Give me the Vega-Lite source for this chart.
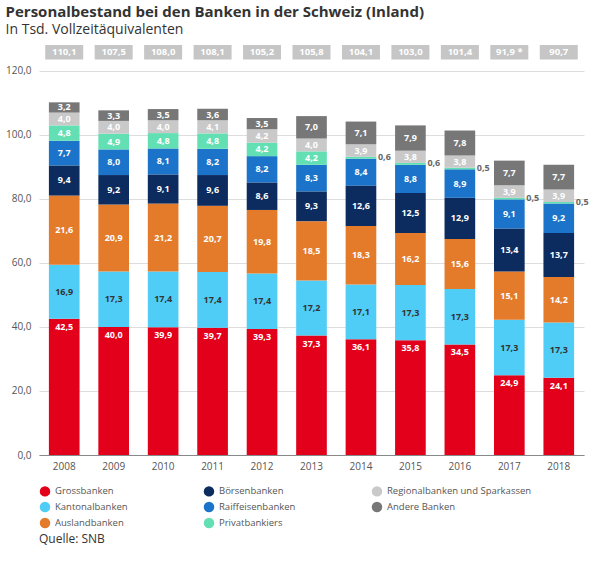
{
"$schema":"https://vega.github.io/schema/vega-lite/v6.json",
"width":545,"height":410,
"config":{"locale":{"number":{"decimal":",","thousands":".","grouping":[3],"currency":["","CHF"]}},"font":"Open Sans","view":{"stroke":null}},
"title":{"text":"Personalbestand bei den Banken in der Schweiz (Inland)","subtitle":"In Tsd. Vollzeitäquivalenten","anchor":"start","fontSize":15,"fontWeight":"bold","color":"#333","subtitleFontSize":14,"subtitleColor":"#333","offset":8},
"data":{"values":[
{"year":"2008","cat":"Grossbanken","k":1,"v":42.5},{"year":"2008","cat":"Kantonalbanken","k":2,"v":16.9},{"year":"2008","cat":"Auslandbanken","k":3,"v":21.6},{"year":"2008","cat":"Börsenbanken","k":4,"v":9.4},{"year":"2008","cat":"Raiffeisenbanken","k":5,"v":7.7},{"year":"2008","cat":"Privatbankiers","k":6,"v":4.8},{"year":"2008","cat":"Regionalbanken und Sparkassen","k":7,"v":4.0},{"year":"2008","cat":"Andere Banken","k":8,"v":3.2},
{"year":"2009","cat":"Grossbanken","k":1,"v":40.0},{"year":"2009","cat":"Kantonalbanken","k":2,"v":17.3},{"year":"2009","cat":"Auslandbanken","k":3,"v":20.9},{"year":"2009","cat":"Börsenbanken","k":4,"v":9.2},{"year":"2009","cat":"Raiffeisenbanken","k":5,"v":8.0},{"year":"2009","cat":"Privatbankiers","k":6,"v":4.9},{"year":"2009","cat":"Regionalbanken und Sparkassen","k":7,"v":4.0},{"year":"2009","cat":"Andere Banken","k":8,"v":3.3},
{"year":"2010","cat":"Grossbanken","k":1,"v":39.9},{"year":"2010","cat":"Kantonalbanken","k":2,"v":17.4},{"year":"2010","cat":"Auslandbanken","k":3,"v":21.2},{"year":"2010","cat":"Börsenbanken","k":4,"v":9.1},{"year":"2010","cat":"Raiffeisenbanken","k":5,"v":8.1},{"year":"2010","cat":"Privatbankiers","k":6,"v":4.8},{"year":"2010","cat":"Regionalbanken und Sparkassen","k":7,"v":4.0},{"year":"2010","cat":"Andere Banken","k":8,"v":3.5},
{"year":"2011","cat":"Grossbanken","k":1,"v":39.7},{"year":"2011","cat":"Kantonalbanken","k":2,"v":17.4},{"year":"2011","cat":"Auslandbanken","k":3,"v":20.7},{"year":"2011","cat":"Börsenbanken","k":4,"v":9.6},{"year":"2011","cat":"Raiffeisenbanken","k":5,"v":8.2},{"year":"2011","cat":"Privatbankiers","k":6,"v":4.8},{"year":"2011","cat":"Regionalbanken und Sparkassen","k":7,"v":4.1},{"year":"2011","cat":"Andere Banken","k":8,"v":3.6},
{"year":"2012","cat":"Grossbanken","k":1,"v":39.3},{"year":"2012","cat":"Kantonalbanken","k":2,"v":17.4},{"year":"2012","cat":"Auslandbanken","k":3,"v":19.8},{"year":"2012","cat":"Börsenbanken","k":4,"v":8.6},{"year":"2012","cat":"Raiffeisenbanken","k":5,"v":8.2},{"year":"2012","cat":"Privatbankiers","k":6,"v":4.2},{"year":"2012","cat":"Regionalbanken und Sparkassen","k":7,"v":4.2},{"year":"2012","cat":"Andere Banken","k":8,"v":3.5},
{"year":"2013","cat":"Grossbanken","k":1,"v":37.3},{"year":"2013","cat":"Kantonalbanken","k":2,"v":17.2},{"year":"2013","cat":"Auslandbanken","k":3,"v":18.5},{"year":"2013","cat":"Börsenbanken","k":4,"v":9.3},{"year":"2013","cat":"Raiffeisenbanken","k":5,"v":8.3},{"year":"2013","cat":"Privatbankiers","k":6,"v":4.2},{"year":"2013","cat":"Regionalbanken und Sparkassen","k":7,"v":4.0},{"year":"2013","cat":"Andere Banken","k":8,"v":7.0},
{"year":"2014","cat":"Grossbanken","k":1,"v":36.1},{"year":"2014","cat":"Kantonalbanken","k":2,"v":17.1},{"year":"2014","cat":"Auslandbanken","k":3,"v":18.3},{"year":"2014","cat":"Börsenbanken","k":4,"v":12.6},{"year":"2014","cat":"Raiffeisenbanken","k":5,"v":8.4},{"year":"2014","cat":"Privatbankiers","k":6,"v":0.6},{"year":"2014","cat":"Regionalbanken und Sparkassen","k":7,"v":3.9},{"year":"2014","cat":"Andere Banken","k":8,"v":7.1},
{"year":"2015","cat":"Grossbanken","k":1,"v":35.8},{"year":"2015","cat":"Kantonalbanken","k":2,"v":17.3},{"year":"2015","cat":"Auslandbanken","k":3,"v":16.2},{"year":"2015","cat":"Börsenbanken","k":4,"v":12.5},{"year":"2015","cat":"Raiffeisenbanken","k":5,"v":8.8},{"year":"2015","cat":"Privatbankiers","k":6,"v":0.6},{"year":"2015","cat":"Regionalbanken und Sparkassen","k":7,"v":3.8},{"year":"2015","cat":"Andere Banken","k":8,"v":7.9},
{"year":"2016","cat":"Grossbanken","k":1,"v":34.5},{"year":"2016","cat":"Kantonalbanken","k":2,"v":17.3},{"year":"2016","cat":"Auslandbanken","k":3,"v":15.6},{"year":"2016","cat":"Börsenbanken","k":4,"v":12.9},{"year":"2016","cat":"Raiffeisenbanken","k":5,"v":8.9},{"year":"2016","cat":"Privatbankiers","k":6,"v":0.5},{"year":"2016","cat":"Regionalbanken und Sparkassen","k":7,"v":3.8},{"year":"2016","cat":"Andere Banken","k":8,"v":7.8},
{"year":"2017","cat":"Grossbanken","k":1,"v":24.9},{"year":"2017","cat":"Kantonalbanken","k":2,"v":17.3},{"year":"2017","cat":"Auslandbanken","k":3,"v":15.1},{"year":"2017","cat":"Börsenbanken","k":4,"v":13.4},{"year":"2017","cat":"Raiffeisenbanken","k":5,"v":9.1},{"year":"2017","cat":"Privatbankiers","k":6,"v":0.5},{"year":"2017","cat":"Regionalbanken und Sparkassen","k":7,"v":3.9},{"year":"2017","cat":"Andere Banken","k":8,"v":7.7},
{"year":"2018","cat":"Grossbanken","k":1,"v":24.1},{"year":"2018","cat":"Kantonalbanken","k":2,"v":17.3},{"year":"2018","cat":"Auslandbanken","k":3,"v":14.2},{"year":"2018","cat":"Börsenbanken","k":4,"v":13.7},{"year":"2018","cat":"Raiffeisenbanken","k":5,"v":9.2},{"year":"2018","cat":"Privatbankiers","k":6,"v":0.5},{"year":"2018","cat":"Regionalbanken und Sparkassen","k":7,"v":3.9},{"year":"2018","cat":"Andere Banken","k":8,"v":7.7}
]},
"datasets":{"tot":[{"year":"2008","t":"110,1"},{"year":"2009","t":"107,5"},{"year":"2010","t":"108,0"},{"year":"2011","t":"108,1"},{"year":"2012","t":"105,2"},{"year":"2013","t":"105,8"},{"year":"2014","t":"104,1"},{"year":"2015","t":"103,0"},{"year":"2016","t":"101,4"},{"year":"2017","t":"91,9 *"},{"year":"2018","t":"90,7"}]},
"encoding":{"x":{"field":"year","type":"nominal","scale":{"paddingInner":0.38,"paddingOuter":0.2},"axis":{"title":null,"labelAngle":0,"domain":true,"domainColor":"#888","ticks":false,"labelColor":"#555","labelFontSize":10,"labelPadding":6}}},
"layer":[
{"mark":{"type":"bar"},"encoding":{
"y":{"field":"v","type":"quantitative","stack":"zero","scale":{"domain":[0,128],"nice":false},"axis":{"title":null,"values":[0,20,40,60,80,100,120],"format":".1f","domain":false,"ticks":false,"gridColor":"#ddd","labelColor":"#555","labelFontSize":10,"labelPadding":8}},
"order":{"field":"k"},
"color":{"field":"cat","type":"nominal","scale":{"domain":["Grossbanken","Börsenbanken","Regionalbanken und Sparkassen","Kantonalbanken","Raiffeisenbanken","Andere Banken","Auslandbanken","Privatbankiers"],"range":["#e2001a","#0c2b5e","#c9c9c9","#4fcdf7","#1b74c9","#777777","#e37b2b","#63e0b3"]},
"legend":{"orient":"bottom","columns":3,"title":"Quelle: SNB","titleOrient":"bottom","titleFontWeight":"normal","titleFontSize":12,"titleColor":"#333","titlePadding":6,"symbolType":"circle","symbolSize":110,"columnPadding":75,"labelFontSize":9.5,"labelColor":"#555","rowPadding":4,"symbolLimit":8,"labelLimit":200,"offset":14}}}},
{"transform":[{"stack":"v","groupby":["year"],"sort":[{"field":"k"}],"as":["y0","y1"]},{"calculate":"(datum.y0+datum.y1)/2","as":"mid"},{"filter":"datum.v>=1 && datum.k>1"}],
"mark":{"type":"text","fontSize":9,"fontWeight":"bold"},
"encoding":{"y":{"field":"mid","type":"quantitative"},"text":{"field":"v","format":".1f"},"color":{"condition":{"test":"datum.k==2","value":"#333"},"value":"white"}}},
{"transform":[{"stack":"v","groupby":["year"],"sort":[{"field":"k"}],"as":["y0","y1"]},{"filter":"datum.k==1"}],
"mark":{"type":"text","fontSize":9,"fontWeight":"bold","color":"white","baseline":"top","dy":4},
"encoding":{"y":{"field":"y1","type":"quantitative"},"text":{"field":"v","format":".1f"}}},
{"transform":[{"stack":"v","groupby":["year"],"sort":[{"field":"k"}],"as":["y0","y1"]},{"filter":"datum.v<1"}],
"mark":{"type":"text","fontSize":9,"fontWeight":"bold","color":"#666","align":"left","dx":17},
"encoding":{"y":{"field":"y1","type":"quantitative"},"text":{"field":"v","format":".1f"}}},
{"data":{"name":"tot"},"mark":{"type":"bar","color":"#c6c6c6","width":38},"encoding":{"y":{"datum":123.5},"y2":{"datum":128}}},
{"data":{"name":"tot"},"mark":{"type":"text","fontSize":9.5,"fontWeight":"bold","color":"white"},"encoding":{"y":{"datum":125.75},"text":{"field":"t"}}}
]}
